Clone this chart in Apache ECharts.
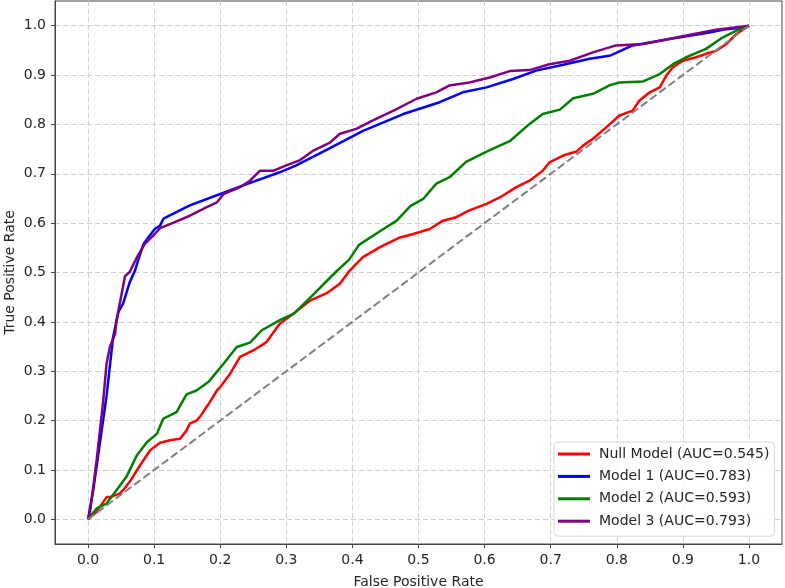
<!DOCTYPE html>
<html>
<head>
<meta charset="utf-8">
<script src="https://cdn.jsdelivr.net/npm/echarts@6/dist/echarts.min.js"></script>
<style>
  html, body { margin: 0; padding: 0; background: #fff; }
  #chart { width: 785px; height: 588px; }
</style>
</head>
<body>
<div id="chart"></div>
<script>
// tick labels
const xTicks = [0.0, 0.1, 0.2, 0.3, 0.4, 0.5, 0.6, 0.7, 0.8, 0.9, 1.0]
const yTicks = [0.0, 0.1, 0.2, 0.3, 0.4, 0.5, 0.6, 0.7, 0.8, 0.9, 1.0]

const seriesNames = [
  'Null Model (AUC=0.545)',
  'Model 1 (AUC=0.783)',
  'Model 2 (AUC=0.593)',
  'Model 3 (AUC=0.793)'
]

// Null model (red)
const nullFpr = [0, 0.013, 0.028, 0.033, 0.048, 0.053, 0.063, 0.079, 0.094, 0.109, 0.124, 0.139, 0.149, 0.154, 0.164, 0.169, 0.179, 0.184, 0.195, 0.2, 0.215, 0.23, 0.25, 0.27, 0.29, 0.31, 0.336, 0.361, 0.381, 0.396, 0.416, 0.441, 0.472, 0.492, 0.517, 0.537, 0.557, 0.577, 0.603, 0.623, 0.648, 0.668, 0.688, 0.698, 0.719, 0.739, 0.749, 0.764, 0.784, 0.804, 0.824, 0.834, 0.85, 0.865, 0.875, 0.885, 0.9, 0.92, 0.935, 0.95, 0.966, 0.981, 1]
const nullTpr = [0, 0.015, 0.045, 0.045, 0.052, 0.059, 0.076, 0.11, 0.14, 0.155, 0.16, 0.163, 0.18, 0.194, 0.2, 0.207, 0.227, 0.237, 0.261, 0.268, 0.295, 0.329, 0.342, 0.359, 0.396, 0.416, 0.443, 0.458, 0.477, 0.504, 0.531, 0.551, 0.571, 0.578, 0.588, 0.605, 0.612, 0.626, 0.639, 0.652, 0.673, 0.686, 0.706, 0.723, 0.737, 0.745, 0.757, 0.771, 0.794, 0.818, 0.828, 0.848, 0.865, 0.875, 0.899, 0.916, 0.929, 0.936, 0.943, 0.949, 0.963, 0.983, 1]

// Model 1 (blue)
const m1Fpr = [0, 0.008, 0.028, 0.038, 0.046, 0.053, 0.063, 0.071, 0.079, 0.084, 0.091, 0.101, 0.109, 0.114, 0.154, 0.2, 0.24, 0.29, 0.315, 0.366, 0.416, 0.477, 0.532, 0.567, 0.603, 0.643, 0.678, 0.719, 0.759, 0.789, 0.824, 0.88, 0.94, 0.966, 0.996, 1]
const m1Tpr = [0, 0.06, 0.25, 0.37, 0.42, 0.437, 0.48, 0.504, 0.538, 0.558, 0.571, 0.588, 0.595, 0.609, 0.636, 0.659, 0.679, 0.703, 0.717, 0.752, 0.787, 0.821, 0.845, 0.865, 0.875, 0.892, 0.909, 0.921, 0.933, 0.939, 0.96, 0.973, 0.986, 0.993, 0.997, 1]

// Model 2 (green)
const m2Fpr = [0, 0.013, 0.028, 0.043, 0.058, 0.074, 0.089, 0.104, 0.114, 0.134, 0.149, 0.164, 0.182, 0.205, 0.225, 0.245, 0.263, 0.291, 0.312, 0.343, 0.374, 0.395, 0.41, 0.441, 0.467, 0.488, 0.507, 0.527, 0.547, 0.572, 0.603, 0.638, 0.668, 0.688, 0.714, 0.734, 0.764, 0.789, 0.804, 0.84, 0.865, 0.885, 0.905, 0.935, 0.96, 0.981, 1]
const m2Tpr = [0, 0.022, 0.032, 0.059, 0.086, 0.13, 0.156, 0.173, 0.204, 0.217, 0.253, 0.261, 0.278, 0.315, 0.349, 0.358, 0.383, 0.404, 0.417, 0.458, 0.5, 0.526, 0.556, 0.583, 0.605, 0.635, 0.649, 0.68, 0.693, 0.724, 0.745, 0.766, 0.801, 0.821, 0.83, 0.853, 0.862, 0.879, 0.885, 0.887, 0.902, 0.922, 0.936, 0.953, 0.976, 0.99, 1]

// Model 3 (purple)
const m3Fpr = [0, 0.003, 0.013, 0.023, 0.028, 0.033, 0.041, 0.043, 0.046, 0.056, 0.063, 0.074, 0.086, 0.101, 0.109, 0.124, 0.154, 0.179, 0.195, 0.205, 0.23, 0.245, 0.26, 0.28, 0.3, 0.32, 0.341, 0.366, 0.381, 0.406, 0.431, 0.467, 0.497, 0.527, 0.547, 0.577, 0.608, 0.638, 0.668, 0.698, 0.729, 0.764, 0.799, 0.84, 0.89, 0.95, 1]
const m3Tpr = [0, 0.015, 0.12, 0.241, 0.315, 0.349, 0.376, 0.403, 0.423, 0.493, 0.501, 0.531, 0.558, 0.578, 0.59, 0.598, 0.615, 0.632, 0.642, 0.659, 0.673, 0.686, 0.706, 0.706, 0.717, 0.727, 0.747, 0.763, 0.781, 0.791, 0.808, 0.831, 0.852, 0.865, 0.879, 0.885, 0.895, 0.908, 0.91, 0.922, 0.929, 0.946, 0.96, 0.963, 0.976, 0.992, 1]

// chance line
const chanceFpr = [0, 1]
const chanceTpr = [0, 1]

const colors = ['#ff0000', '#0000ff', '#008000', '#800080']
const textColor = '#262626'
const font = 'DejaVu Sans'

const pairs = (xs, ys) => xs.map((x, i) => [x, ys[i]])

const chart = echarts.init(document.getElementById('chart'), null, { renderer: 'canvas' })

const curve = (name, xs, ys, color) => ({
  name: name,
  type: 'line',
  data: pairs(xs, ys),
  showSymbol: false,
  symbol: 'none',
  animation: false,
  lineStyle: { color: color, width: 2.5 },
  itemStyle: { color: color }
})

const option = {
  backgroundColor: '#fff',
  animation: false,
  grid: {
    left: 55,
    right: 3,
    top: 1,
    bottom: 44,
    outerBoundsMode: 'none',
    containLabel: false,
    show: true,
    borderColor: '#444',
    borderWidth: 1,
    backgroundColor: 'transparent'
  },
  xAxis: {
    type: 'value',
    min: -0.05,
    max: 1.05,
    name: 'False Positive Rate',
    nameLocation: 'middle',
    nameGap: 31,
    nameMoveOverlap: false,
    nameTextStyle: { color: textColor, fontSize: 14, fontFamily: font },
    axisLine: { show: true, onZero: false, lineStyle: { color: '#444', width: 1 } },
    axisTick: { show: true, customValues: xTicks, length: 4, lineStyle: { color: '#444' } },
    axisLabel: {
      customValues: xTicks,
      color: textColor,
      fontSize: 14,
      fontFamily: font,
      margin: 9,
      formatter: v => v.toFixed(1)
    },
    splitLine: { show: true, lineStyle: { color: '#cfcfcf', type: [5, 3], width: 1 } }
  },
  yAxis: {
    type: 'value',
    min: -0.05,
    max: 1.05,
    name: 'True Positive Rate',
    nameLocation: 'middle',
    nameGap: 38,
    nameMoveOverlap: false,
    nameTextStyle: { color: textColor, fontSize: 14, fontFamily: font },
    axisLine: { show: true, onZero: false, lineStyle: { color: '#444', width: 1 } },
    axisTick: { show: true, customValues: yTicks, length: 4, lineStyle: { color: '#444' } },
    axisLabel: {
      customValues: yTicks,
      color: textColor,
      fontSize: 14,
      fontFamily: font,
      margin: 9,
      formatter: v => v.toFixed(1)
    },
    splitLine: { show: true, lineStyle: { color: '#cfcfcf', type: [5, 3], width: 1 } }
  },
  legend: {
    data: seriesNames,
    orient: 'vertical',
    left: 554,
    top: 442,
    padding: [4, 5, 7, 4],
    itemGap: 6.4,
    itemWidth: 32,
    itemHeight: 3,
    icon: 'rect',
    backgroundColor: 'rgba(255,255,255,0.85)',
    borderColor: '#d6d6d6',
    borderWidth: 1,
    borderRadius: 4,
    textStyle: {
      color: textColor,
      fontSize: 14,
      fontFamily: font,
      lineHeight: 16,
      padding: [0, 0, 0, 4]
    }
  },
  series: [
    curve(seriesNames[0], nullFpr, nullTpr, colors[0]),
    curve(seriesNames[1], m1Fpr, m1Tpr, colors[1]),
    curve(seriesNames[2], m2Fpr, m2Tpr, colors[2]),
    curve(seriesNames[3], m3Fpr, m3Tpr, colors[3]),
    {
      name: 'chance',
      type: 'line',
      data: pairs(chanceFpr, chanceTpr),
      symbol: 'none',
      animation: false,
      lineStyle: { color: '#808080', width: 2, type: [8, 3.5] }
    }
  ]
}

chart.setOption(option)
</script>
</body>
</html>
